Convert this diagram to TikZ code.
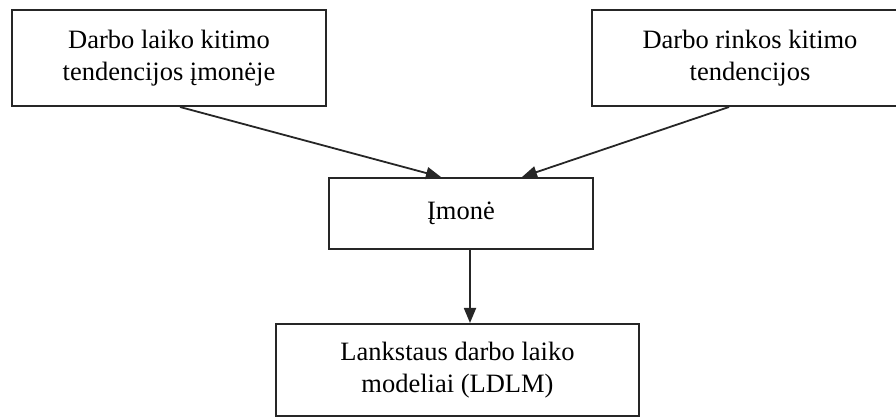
\documentclass[tikz,border=0pt]{standalone}
\usepackage{fontspec}
\setmainfont{Liberation Serif}
\usetikzlibrary{arrows.meta}
\begin{document}
\begin{tikzpicture}[x=1pt,y=-1pt,
  box/.style={draw=black!85,line width=2pt,inner sep=0pt,align=center,
    font=\fontsize{26.5}{32}\selectfont},
  conn/.style={draw=black!85,line width=1.8pt,-{Triangle[length=15pt,width=12pt]}}]
\useasboundingbox (0,0) rectangle (896,419);
\clip (0,0) rectangle (896,419);
\node[box,minimum width=314pt,minimum height=96pt] (lt) at (169,58)
  {Darbo laiko kitimo\\tendencijos įmonėje};
\node[box,minimum width=316pt,minimum height=96pt] (rt) at (750,58)
  {Darbo rinkos kitimo\\tendencijos};
\node[box,minimum width=264pt,minimum height=71pt] (mid) at (461,213.5)
  {Įmonė};
\node[box,minimum width=363pt,minimum height=92pt] (bot) at (457.5,370)
  {Lankstaus darbo laiko\\modeliai (LDLM)};
\draw[conn] ([xshift=169pt]lt.south west) -- ([xshift=113pt]mid.north west);
\draw[conn] ([xshift=138pt]rt.south west) -- ([xshift=194pt]mid.north west);
\draw[conn] ([xshift=142pt]mid.south west) -- ([xshift=142pt]mid.south west |- bot.north);
\end{tikzpicture}
\end{document}
